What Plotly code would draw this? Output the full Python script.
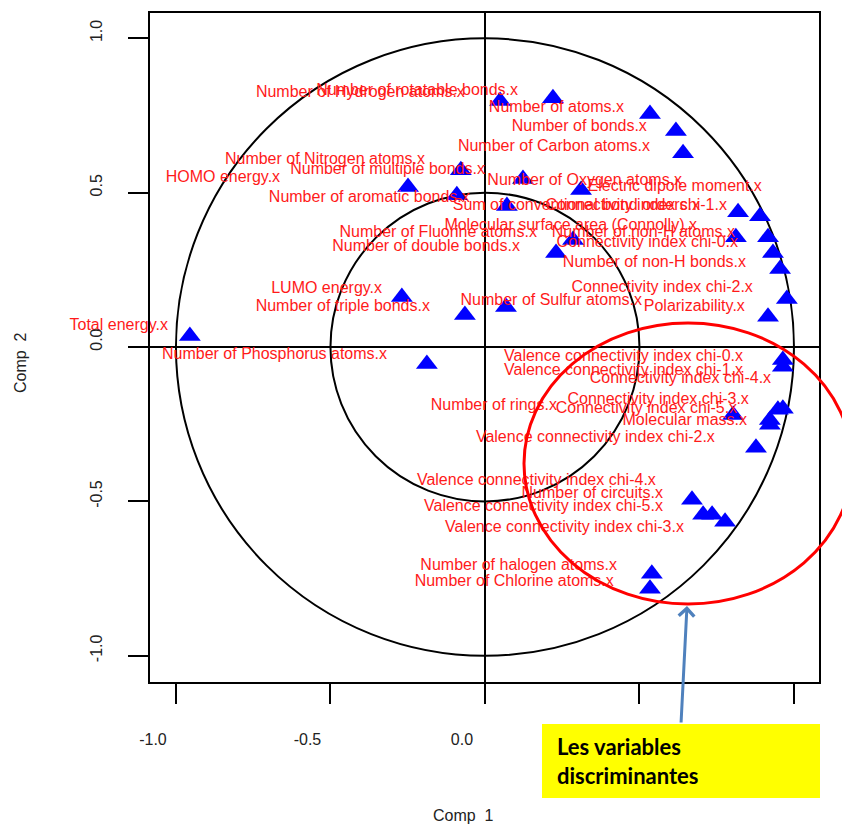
import plotly.graph_objects as go

# Variable names (as they appear in the merged descriptor table)
variables = [
    "Number of Hydrogen atoms.x", "Number of rotatable bonds.x", "Number of Nitrogen atoms.x",
    "HOMO energy.x", "Number of multiple bonds.x", "Number of aromatic bonds.x",
    "Number of Fluorine atoms.x", "Number of double bonds.x", "Molecular surface area (Connolly).x",
    "Number of atoms.x", "Number of bonds.x", "Number of Carbon atoms.x",
    "Number of Oxygen atoms.x", "Electric dipole moment.x", "Sum of conventional bond orders.x",
    "Connectivity index chi-1.x", "Number of non-H atoms.x", "Connectivity index chi-0.x",
    "Number of non-H bonds.x", "Connectivity index chi-2.x", "Polarizability.x",
    "Number of Sulfur atoms.x", "LUMO energy.x", "Number of triple bonds.x",
    "Total energy.x", "Number of Phosphorus atoms.x", "Valence connectivity index chi-0.x",
    "Valence connectivity index chi-1.x", "Connectivity index chi-4.x", "Connectivity index chi-3.x",
    "Connectivity index chi-5.x", "Molecular mass.x", "Number of rings.x",
    "Valence connectivity index chi-2.x", "Valence connectivity index chi-4.x", "Number of circuits.x",
    "Valence connectivity index chi-5.x", "Valence connectivity index chi-3.x", "Number of halogen atoms.x",
    "Number of Chlorine atoms.x",
]

# Label anchors (Comp 1, Comp 2); each label is written to the left of its anchor
label_x = [-0.065, 0.107, -0.194, -0.663, 0.000, -0.049, 0.168, 0.113, 0.686,
           0.450, 0.524, 0.534, 0.638, 0.896, 0.696, 0.783, 0.809, 0.819,
           0.845, 0.867, 0.841, 0.508, -0.333, -0.178, -1.026, -0.317, 0.835,
           0.835, 0.926, 0.854, 0.816, 0.848, 0.233, 0.744, 0.553, 0.576,
           0.576, 0.644, 0.427, 0.417]
label_y = [0.822, 0.828, 0.605, 0.547, 0.573, 0.482, 0.369, 0.324, 0.392,
           0.773, 0.712, 0.647, 0.537, 0.518, 0.456, 0.456, 0.369, 0.337,
           0.272, 0.191, 0.129, 0.149, 0.188, 0.129, 0.068, -0.026, -0.032,
           -0.078, -0.104, -0.172, -0.201, -0.239, -0.191, -0.294, -0.434, -0.476,
           -0.518, -0.586, -0.709, -0.761]

# Correlations of the variables with the two components (triangle markers)
comp1 = [0.049, 0.220, 0.534, 0.618, 0.641, -0.249, -0.078, -0.091, 0.123, 0.311,
         0.071, 0.285, 0.230, 0.819, 0.890, 0.812, 0.916, 0.932, 0.955, 0.977,
         0.916, -0.065, 0.068, -0.955, -0.269, -0.188, 0.964, 0.964, 0.803, 0.964,
         0.948, 0.922, 0.922, 0.877, 0.670, 0.706, 0.735, 0.777, 0.540, 0.534]
comp2 = [0.797, 0.806, 0.755, 0.700, 0.628, 0.518, 0.573, 0.492, 0.544, 0.509,
         0.457, 0.347, 0.305, 0.437, 0.424, 0.356, 0.356, 0.305, 0.253, 0.156,
         0.098, 0.104, 0.130, 0.036, 0.162, -0.055, -0.042, -0.064, -0.220, -0.200,
         -0.203, -0.236, -0.252, -0.326, -0.495, -0.543, -0.543, -0.566, -0.734, -0.783]

tick_vals = [-1.0, -0.5, 0.0, 0.5, 1.0]
tick_text = ["-1.0", "-0.5", "0.0", "0.5", "1.0"]

FIG_W, FIG_H = 842, 827
L, R, T, B = 150, 23, 13, 145
PW, PH = FIG_W - L - R, FIG_H - T - B


def px(xp):
    return (xp - L) / PW


def py(yp):
    return (FIG_H - B - yp) / PH


fig = go.Figure()

fig.add_trace(go.Scatter(
    x=comp1, y=comp2, mode="markers",
    marker=dict(symbol="triangle-up", size=19, color="#0000ff", line=dict(width=0)),
    cliponaxis=False, hoverinfo="skip", showlegend=False,
))
fig.add_trace(go.Scatter(
    x=label_x, y=label_y, mode="text", text=variables,
    textposition="middle left",
    marker=dict(size=1),
    textfont=dict(family="Liberation Sans, Arial", size=16, color="#ff1a1a"),
    cliponaxis=False, hoverinfo="skip", showlegend=False,
))

# Correlation circles (radius 1 and 0.5)
for r in (1.0, 0.5):
    fig.add_shape(type="circle", xref="x", yref="y", x0=-r, y0=-r, x1=r, y1=r,
                  line=dict(color="black", width=2), layer="below")

# Highlight ellipse, arrow and caption box
fig.add_shape(type="circle", xref="paper", yref="paper",
              x0=px(524), x1=px(852), y0=py(604), y1=py(323),
              line=dict(color="#ff0000", width=3), layer="above")
fig.add_shape(type="rect", xref="paper", yref="paper",
              x0=px(542), x1=px(820), y0=py(798), y1=py(724),
              fillcolor="#ffff00", line=dict(width=0), layer="above")
fig.add_annotation(xref="paper", yref="paper", x=px(687), y=py(606),
                   ax=-6, ay=118, text="", showarrow=True,
                   arrowhead=4, arrowsize=1, arrowwidth=3, arrowcolor="#4f81bd")
fig.add_annotation(xref="paper", yref="paper", x=px(555), y=py(761),
                   xanchor="left", yanchor="middle", align="left", showarrow=False,
                   text="<b>Les variables<br>discriminantes</b>",
                   font=dict(family="Lato, Open Sans", size=22, color="black"))

# Axis titles
axis_font = dict(family="Liberation Sans, Arial", size=16, color="#222222")
fig.add_annotation(xref="paper", yref="paper", x=px(463), y=py(815),
                   text="Comp  1", showarrow=False, font=axis_font,
                   xanchor="center", yanchor="middle")
fig.add_annotation(xref="paper", yref="paper", x=px(20), y=py(363),
                   text="Comp  2", showarrow=False, font=axis_font, textangle=-90,
                   xanchor="center", yanchor="middle")

axis_common = dict(
    showgrid=False, zeroline=True, zerolinecolor="black", zerolinewidth=2,
    showline=True, linecolor="black", linewidth=2, mirror=True,
    ticks="outside", ticklen=20, tickwidth=2, tickcolor="black",
    tickvals=tick_vals, ticktext=tick_text, tickfont=axis_font,
)

fig.update_xaxes(range=[-1.084, 1.081], ticklabelstandoff=22, ticklabelshift=-23,
                 **axis_common)
fig.update_yaxes(range=[-1.085, 1.082], tickangle=-90, ticklabelstandoff=20,
                 ticklabelshift=-5, **axis_common)

fig.update_layout(
    width=FIG_W, height=FIG_H,
    margin=dict(l=L, r=R, t=T, b=B),
    plot_bgcolor="white", paper_bgcolor="white",
    showlegend=False,
)

fig.write_html("out.html")
